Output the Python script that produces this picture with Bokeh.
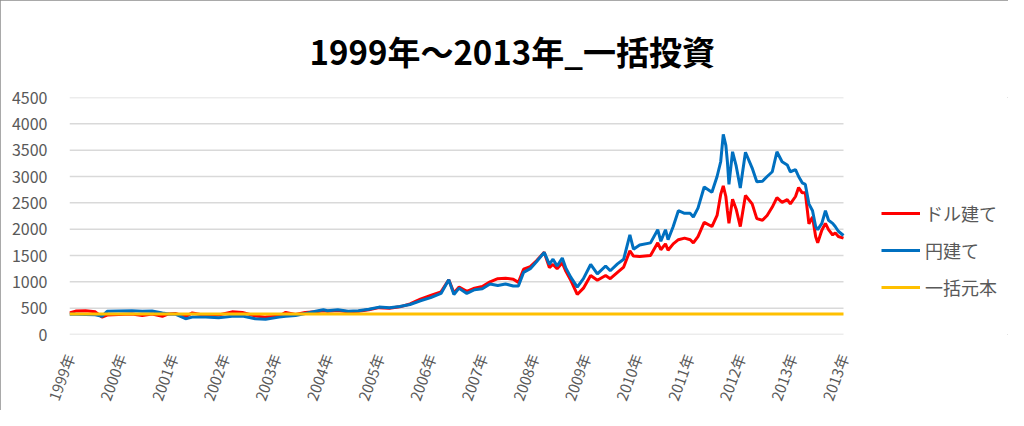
from bokeh.plotting import figure
from bokeh.models import Legend, LegendItem, FixedTicker, Range1d
from bokeh.embed import file_html
from bokeh.resources import INLINE

title_text = "1999年～2013年_一括投資"
tick_labels = ["1999年", "2000年", "2001年", "2002年", "2003年", "2004年", "2005年",
               "2006年", "2007年", "2008年", "2009年", "2010年", "2011年", "2012年",
               "2013年", "2013年"]
y_ticks = [0, 500, 1000, 1500, 2000, 2500, 3000, 3500, 4000, 4500]
series_names = ["ドル建て", "円建て", "一括元本"]

t = [0.0, 0.12, 0.31, 0.5, 0.63, 0.73, 0.95, 1.21, 1.41, 1.6,
     1.8, 1.92, 2.05, 2.25, 2.38, 2.64, 2.89, 3.15, 3.35, 3.6,
     3.8, 4.06, 4.19, 4.38, 4.57, 4.77, 4.92, 5.0, 5.2, 5.4,
     5.6, 5.8, 6.0, 6.2, 6.4, 6.6, 6.8, 7.0, 7.2, 7.35,
     7.45, 7.55, 7.7, 7.85, 8.0, 8.15, 8.3, 8.45, 8.6, 8.7,
     8.8, 8.93, 9.05, 9.2, 9.3, 9.37, 9.45, 9.55, 9.62, 9.72,
     9.84, 9.96, 10.1, 10.23, 10.39, 10.48, 10.62, 10.74, 10.86, 10.93,
     11.05, 11.26, 11.4, 11.46, 11.55, 11.6, 11.7, 11.8, 11.92, 12.03,
     12.09, 12.18, 12.3, 12.45, 12.55, 12.62, 12.67, 12.72, 12.75, 12.78,
     12.85, 12.92, 13.0, 13.1, 13.23, 13.32, 13.43, 13.52, 13.62, 13.71,
     13.81, 13.91, 13.97, 14.07, 14.13, 14.2, 14.26, 14.33, 14.4, 14.46,
     14.5, 14.58, 14.65, 14.71, 14.79, 14.84, 14.9, 15.0]

jpy = [385, 385, 380, 375, 345, 440, 445, 450, 440, 445,
       410, 390, 385, 300, 330, 330, 320, 345, 350, 300,
       290, 330, 345, 360, 400, 440, 470, 450, 470, 440,
       450, 480, 520, 510, 530, 570, 640, 700, 780, 1040,
       760, 880, 780, 850, 870, 960, 930, 960, 920, 920,
       1180, 1250, 1380, 1560, 1330, 1430, 1300, 1450, 1260, 1080,
       900, 1060, 1330, 1150, 1300, 1210, 1340, 1430, 1890, 1620,
       1700, 1740, 1990, 1770, 1990, 1800, 2050, 2350, 2300, 2300,
       2230, 2400, 2800, 2700, 3000, 3280, 3800, 3590, 3280, 2850,
       3470, 3200, 2780, 3460, 3160, 2900, 2910, 3000, 3090, 3470,
       3280, 3220, 3090, 3130, 3000, 2880, 2850, 2480, 2350, 2050,
       1990, 2110, 2350, 2170, 2110, 2050, 1960, 1880]

usd = [410, 445, 450, 430, 330, 370, 380, 390, 360, 390,
       345, 390, 400, 340, 410, 360, 370, 430, 420, 350,
       330, 345, 420, 380, 420, 430, 450, 440, 455, 430,
       440, 470, 510, 500, 525, 580, 670, 740, 810, 1040,
       790, 900, 820, 880, 910, 1000, 1060, 1070, 1050, 990,
       1240, 1290, 1400, 1560, 1270, 1330, 1250, 1360, 1200, 1020,
       760, 880, 1120, 1030, 1120, 1060, 1180, 1280, 1590, 1490,
       1480, 1500, 1740, 1610, 1720, 1600, 1720, 1800, 1830, 1800,
       1740, 1860, 2130, 2050, 2260, 2660, 2820, 2620, 2350, 2110,
       2570, 2380, 2050, 2640, 2480, 2200, 2170, 2260, 2420, 2600,
       2510, 2560, 2480, 2620, 2790, 2690, 2690, 2100, 2230, 1860,
       1740, 1980, 2110, 1990, 1890, 1930, 1860, 1830]

principal_x = [0.0, 15.0]
principal = [390, 390]

FONT = "Noto Sans CJK JP"
GREY = "#595959"

# frame spans from the plot's left edge to the right edge of the canvas;
# the data area occupies x = 0..15 and the legend sits in the remaining space
X_END = 15 * (1008 - 69) / 774.0

p = figure(width=1008, height=410, output_backend="svg", toolbar_location=None,
           x_range=Range1d(0, X_END), y_range=Range1d(0, 4500),
           min_border_left=69, min_border_right=0,
           min_border_top=97, min_border_bottom=69)
p.styles = {"outline": "1px solid #8c8c8c", "outline-offset": "-1px"}
p.outline_line_color = None
p.background_fill_color = "white"
p.border_fill_color = "white"

p.title.text = title_text
p.title.text_font = FONT
p.title.text_font_size = "33px"
p.title.text_font_style = "bold"
p.title.text_color = "#000000"
p.title.align = "left"
p.title.offset = 240
p.title.standoff = 46

p.xgrid.grid_line_color = None
p.ygrid.grid_line_color = None

# horizontal gridlines restricted to the data span
p.segment(x0=t[0], y0=y_ticks, x1=t[-1], y1=y_ticks,
          line_color="#d9d9d9", line_width=1.5)

p.yaxis.ticker = FixedTicker(ticks=y_ticks)
p.yaxis.axis_line_color = None
p.yaxis.major_tick_line_color = None
p.yaxis.minor_tick_line_color = None
p.yaxis.major_label_text_font = FONT
p.yaxis.major_label_text_font_size = "16px"
p.yaxis.major_label_text_color = GREY
p.yaxis.major_label_standoff = 16

p.xaxis.ticker = FixedTicker(ticks=list(range(len(tick_labels))))
p.xaxis.major_label_overrides = {i: lab for i, lab in enumerate(tick_labels)}
p.xaxis.major_label_orientation = 1.22
p.xaxis.axis_line_color = None
p.xaxis.major_tick_line_color = None
p.xaxis.minor_tick_line_color = None
p.xaxis.major_label_text_font = FONT
p.xaxis.major_label_text_font_size = "15px"
p.xaxis.major_label_text_color = GREY
p.xaxis.major_label_standoff = 14

r_usd = p.line(t, usd, line_color="#ff0000", line_width=3)
r_jpy = p.line(t, jpy, line_color="#0070c0", line_width=3)
r_pr = p.line(principal_x, principal, line_color="#ffc000", line_width=3)

legend = Legend(items=[LegendItem(label=series_names[0], renderers=[r_usd]),
                       LegendItem(label=series_names[1], renderers=[r_jpy]),
                       LegendItem(label=series_names[2], renderers=[r_pr])],
                location=(812, 34))
legend.border_line_color = None
legend.background_fill_alpha = 0
legend.label_text_font = FONT
legend.label_text_font_size = "18px"
legend.label_text_color = GREY
legend.glyph_width = 39
legend.glyph_height = 20
legend.label_height = 20
legend.spacing = 11
legend.label_standoff = 5
legend.padding = 0
legend.margin = 0
p.add_layout(legend)

open("out.html", "w").write(file_html(p, INLINE))
